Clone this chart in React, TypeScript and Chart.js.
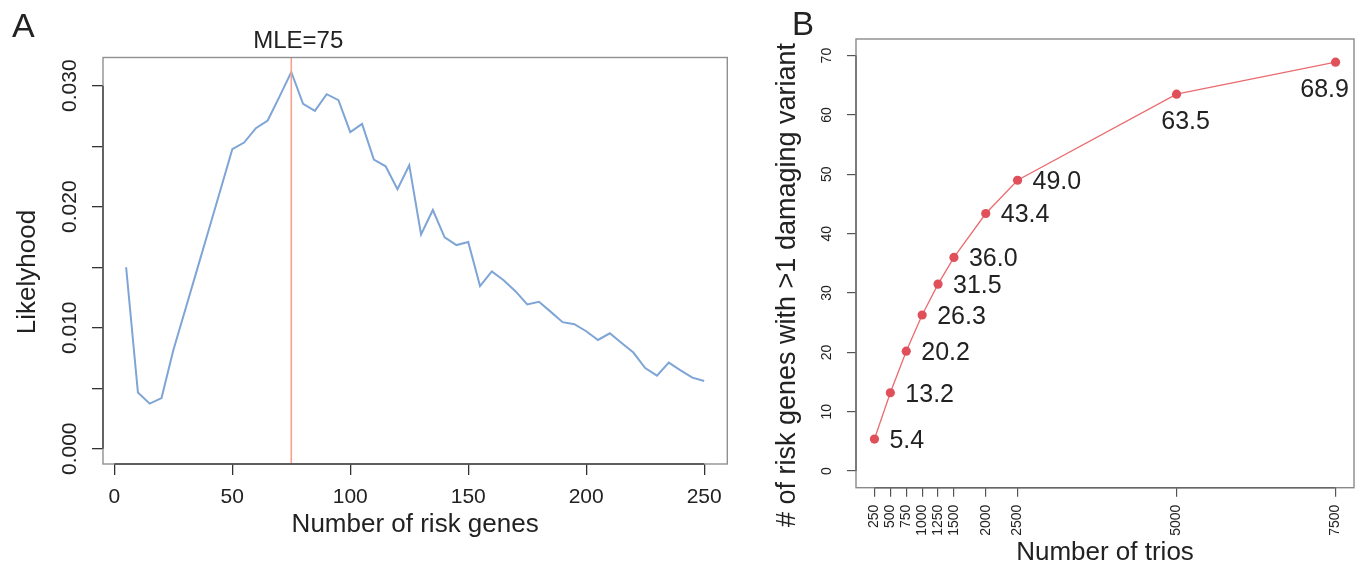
import React, { useEffect, useRef } from 'react';
import { Chart, registerables } from 'chart.js';

Chart.register(...registerables);

const FONT = '"Liberation Sans", Arial, Helvetica, sans-serif';

// ---------- Panel A data ----------
const riskGenes = [
  5, 10, 15, 20, 25, 30, 35, 40, 45, 50,
  55, 60, 65, 70, 75, 80, 85, 90, 95, 100,
  105, 110, 115, 120, 125, 130, 135, 140, 145, 150,
  155, 160, 165, 170, 175, 180, 185, 190, 195, 200,
  205, 210, 215, 220, 225, 230, 235, 240, 245, 250,
];
const likelihood = [
  0.0150, 0.00464, 0.00373, 0.00419, 0.00814, 0.01145, 0.01476, 0.01807, 0.0214, 0.02475,
  0.0253, 0.02649, 0.02712, 0.0291, 0.03113, 0.0285, 0.02792, 0.0293, 0.02881, 0.02616,
  0.02685, 0.02389, 0.02334, 0.02144, 0.02343, 0.01771, 0.01973, 0.01747, 0.01683, 0.01708,
  0.01344, 0.01465, 0.01393, 0.01302, 0.01192, 0.01214, 0.01131, 0.01046, 0.01029, 0.00971,
  0.00899, 0.00954, 0.00874, 0.00795, 0.00667, 0.00604, 0.00712, 0.00648, 0.00588, 0.0056,
];
const riskGeneTicks = [0, 50, 100, 150, 200, 250];
const likelihoodTicks = [0, 0.005, 0.01, 0.015, 0.02, 0.025, 0.03];
const likelihoodLabels = [0, 0.01, 0.02, 0.03];
const mle = 75;

// ---------- Panel B data ----------
const trios = [250, 500, 750, 1000, 1250, 1500, 2000, 2500, 5000, 7500];
const genesFound = [5.4, 13.2, 20.2, 26.3, 31.5, 36.0, 43.4, 49.0, 63.5, 68.9];
const trioTicks = [250, 500, 750, 1000, 1250, 1500, 2000, 2500, 5000, 7500];
const foundTicks = [0, 10, 20, 30, 40, 50, 60, 70];
// label placement per point: [dx, dy, align]
const labelPlacement: [number, number, CanvasTextAlign][] = [
  [15, 2, 'left'], [15, 2, 'left'], [15, 2, 'left'], [15, 2, 'left'], [15, 2, 'left'],
  [15, 2, 'left'], [15, 2, 'left'], [15, 2, 'left'], [9, 28, 'center'], [-11, 28, 'center'],
];

const LEFT_W = 760;
const RIGHT_W = 603;
const H = 568;

function drawAxisSegments(ctx: CanvasRenderingContext2D, chart: any, xt: number[], yt: number[], color: string) {
  const { chartArea: a, scales } = chart;
  ctx.strokeStyle = color;
  ctx.lineWidth = 1.4;
  ctx.beginPath();
  ctx.moveTo(scales.x.getPixelForValue(xt[0]), a.bottom);
  ctx.lineTo(scales.x.getPixelForValue(xt[xt.length - 1]), a.bottom);
  ctx.moveTo(a.left, scales.y.getPixelForValue(yt[0]));
  ctx.lineTo(a.left, scales.y.getPixelForValue(yt[yt.length - 1]));
  ctx.stroke();
}

const leftDecor = {
  id: 'leftDecor',
  afterDatasetsDraw(chart: any) {
    const { ctx, chartArea: a, scales } = chart;
    const { x, y } = scales;
    ctx.save();
    // MLE vertical line
    const mx = x.getPixelForValue(mle);
    ctx.strokeStyle = '#F4A28E';
    ctx.lineWidth = 1.6;
    ctx.beginPath();
    ctx.moveTo(mx, a.top);
    ctx.lineTo(mx, a.bottom);
    ctx.stroke();
    // box
    ctx.strokeStyle = '#909090';
    ctx.lineWidth = 1.4;
    ctx.strokeRect(a.left, a.top, a.right - a.left, a.bottom - a.top);
    drawAxisSegments(ctx, chart, riskGeneTicks, likelihoodTicks, '#444');
    // y tick labels (rotated)
    ctx.fillStyle = '#222';
    ctx.font = `21px ${FONT}`;
    ctx.textAlign = 'center';
    ctx.textBaseline = 'middle';
    for (const v of likelihoodLabels) {
      const py = y.getPixelForValue(v);
      ctx.save();
      ctx.translate(70, py);
      ctx.rotate(-Math.PI / 2);
      ctx.fillText(v.toFixed(3), 0, 0);
      ctx.restore();
    }
    // y title
    ctx.font = `26px ${FONT}`;
    ctx.textBaseline = 'alphabetic';
    ctx.save();
    ctx.translate(35, 272);
    ctx.rotate(-Math.PI / 2);
    ctx.fillText('Likelyhood', 0, 0);
    ctx.restore();
    // MLE label
    ctx.font = `24px ${FONT}`;
    ctx.textAlign = 'center';
    ctx.fillText('MLE=' + mle, mx + 7, 48);
    // panel letter
    ctx.font = `34px ${FONT}`;
    ctx.textAlign = 'left';
    ctx.fillText('A', 12, 37);
    ctx.restore();
  },
};

const rightDecor = {
  id: 'rightDecor',
  afterDatasetsDraw(chart: any) {
    const { ctx, chartArea: a, scales } = chart;
    const { y } = scales;
    ctx.save();
    ctx.strokeStyle = '#8a8a8a';
    ctx.lineWidth = 1.4;
    ctx.strokeRect(a.left, a.top, a.right - a.left, a.bottom - a.top);
    drawAxisSegments(ctx, chart, trioTicks, foundTicks, '#666');
    // y tick labels
    ctx.fillStyle = '#222';
    ctx.font = `14px ${FONT}`;
    ctx.textAlign = 'center';
    ctx.textBaseline = 'middle';
    for (const v of foundTicks) {
      const py = y.getPixelForValue(v);
      ctx.save();
      ctx.translate(67, py);
      ctx.rotate(-Math.PI / 2);
      ctx.fillText(String(v), 0, 0);
      ctx.restore();
    }
    // point labels
    const meta = chart.getDatasetMeta(0);
    ctx.font = `25px ${FONT}`;
    meta.data.forEach((pt: any, i: number) => {
      const [dx, dy, align] = labelPlacement[i];
      ctx.textAlign = align;
      ctx.textBaseline = 'middle';
      ctx.fillText(genesFound[i].toFixed(1), pt.x + dx, pt.y + dy);
    });
    // y title
    ctx.font = `27px ${FONT}`;
    ctx.textAlign = 'center';
    ctx.textBaseline = 'alphabetic';
    ctx.save();
    ctx.translate(35, 285);
    ctx.rotate(-Math.PI / 2);
    ctx.fillText('# of risk genes with >1 damaging variant', 0, 0);
    ctx.restore();
    // panel letter
    ctx.font = `33px ${FONT}`;
    ctx.textAlign = 'left';
    ctx.fillText('B', 32, 35);
    ctx.restore();
  },
};

export default function App() {
  const leftRef = useRef<HTMLCanvasElement>(null);
  const rightRef = useRef<HTMLCanvasElement>(null);

  useEffect(() => {
    Chart.defaults.font.family = FONT;
    const left = new Chart(leftRef.current!, {
      type: 'line',
      data: {
        datasets: [
          {
            data: riskGenes.map((g, i) => ({ x: g, y: likelihood[i] })),
            borderColor: '#7EA5D6',
            borderWidth: 2,
            pointRadius: 0,
            tension: 0,
            fill: false,
          },
        ],
      },
      options: {
        responsive: false,
        animation: false,
        events: [],
        layout: { padding: { left: 0, top: 57.5, right: LEFT_W - 727.3, bottom: 0 } },
        plugins: { legend: { display: false }, tooltip: { enabled: false } },
        scales: {
          x: {
            type: 'linear',
            min: -4.8,
            max: 259.8,
            afterBuildTicks: (s: any) => { s.ticks = riskGeneTicks.map((v) => ({ value: v })); },
            afterFit: (s: any) => { s.height = H - 464; },
            border: { display: false },
            grid: { drawOnChartArea: false, drawTicks: true, tickLength: 11, color: '#333', lineWidth: 1.3 },
            ticks: { color: '#222', font: { size: 21 }, padding: 9.5, maxRotation: 0, autoSkip: false, callback: (v: any) => String(v) },
            title: { display: true, text: 'Number of risk genes', color: '#222', font: { size: 26 }, padding: { top: 0, bottom: 28 } },
          },
          y: {
            type: 'linear',
            min: -0.00126,
            max: 0.03233,
            afterBuildTicks: (s: any) => { s.ticks = likelihoodTicks.map((v) => ({ value: v })); },
            afterFit: (s: any) => { s.width = 103; },
            border: { display: false },
            grid: { drawOnChartArea: false, drawTicks: true, tickLength: 11, color: '#333', lineWidth: 1.3 },
            ticks: { display: false },
          },
        },
      },
      plugins: [leftDecor],
    } as any);

    const right = new Chart(rightRef.current!, {
      type: 'line',
      data: {
        datasets: [
          {
            data: trios.map((t, i) => ({ x: t, y: genesFound[i] })),
            borderColor: '#EA6C70',
            borderWidth: 1.3,
            pointRadius: 4.6,
            pointBackgroundColor: '#E0505A',
            pointBorderWidth: 0,
            tension: 0,
            fill: false,
          },
        ],
      },
      options: {
        responsive: false,
        animation: false,
        events: [],
        layout: { padding: { left: 0, top: 39, right: RIGHT_W - 594, bottom: 0 } },
        plugins: { legend: { display: false }, tooltip: { enabled: false } },
        scales: {
          x: {
            type: 'linear',
            min: -40,
            max: 7790,
            afterBuildTicks: (s: any) => { s.ticks = trioTicks.map((v) => ({ value: v })); },
            afterFit: (s: any) => { s.height = H - 487.7; },
            border: { display: false },
            grid: { drawOnChartArea: false, drawTicks: true, tickLength: 9, color: '#555', lineWidth: 1.2 },
            ticks: { color: '#222', font: { size: 14 }, padding: 8, minRotation: 90, maxRotation: 90, autoSkip: false, callback: (v: any) => String(v) },
            title: { display: true, text: 'Number of trios', color: '#222', font: { size: 26 }, padding: { top: 0, bottom: 0 } },
          },
          y: {
            type: 'linear',
            min: -2.8,
            max: 72.8,
            afterBuildTicks: (s: any) => { s.ticks = foundTicks.map((v) => ({ value: v })); },
            afterFit: (s: any) => { s.width = 96; },
            border: { display: false },
            grid: { drawOnChartArea: false, drawTicks: true, tickLength: 9, color: '#555', lineWidth: 1.2 },
            ticks: { display: false },
          },
        },
      },
      plugins: [rightDecor],
    } as any);

    return () => {
      left.destroy();
      right.destroy();
    };
  }, []);

  return (
    <div style={{ position: 'absolute', left: 0, top: 0, width: 1363, height: H, background: '#fff' }}>
      <canvas ref={leftRef} width={LEFT_W} height={H} style={{ position: 'absolute', left: 0, top: 0, display: 'block' }} />
      <canvas ref={rightRef} width={RIGHT_W} height={H} style={{ position: 'absolute', left: LEFT_W, top: 0, display: 'block' }} />
    </div>
  );
}
